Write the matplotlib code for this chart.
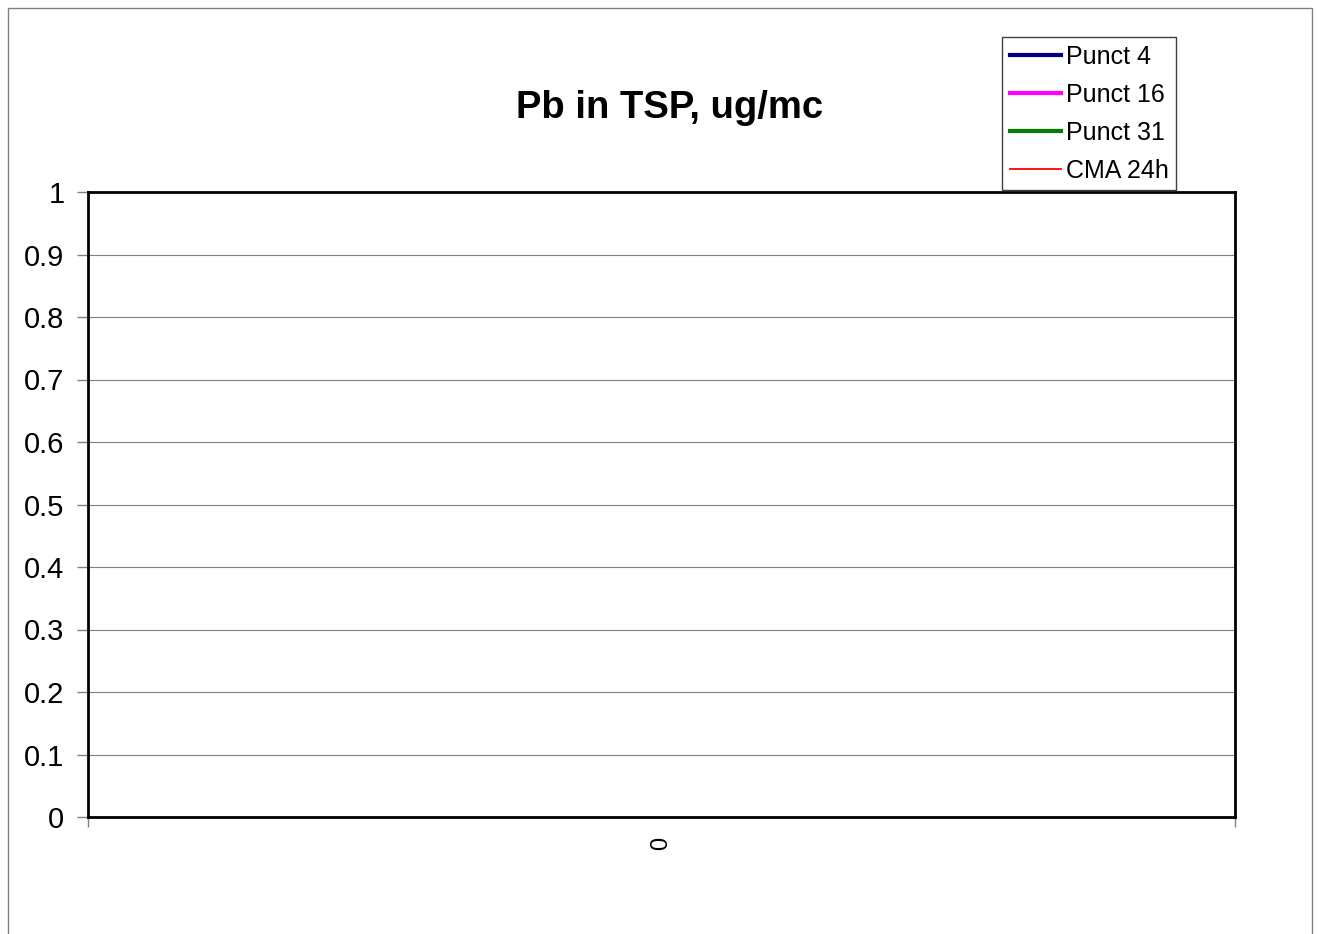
import numpy as np
import matplotlib
matplotlib.use('Agg')
import matplotlib.pyplot as plt
from matplotlib.patches import Rectangle

plt.rcParams['font.family'] = ['Liberation Sans', 'DejaVu Sans']

# data (chart has one empty category, no values plotted)
categories = ['0']
punct4 = [np.nan]
punct16 = [np.nan]
punct31 = [np.nan]
cma24h = [np.nan]
yticks = [0, 0.1, 0.2, 0.3, 0.4, 0.5, 0.6, 0.7, 0.8, 0.9, 1]
ytick_labels = ['0', '0.1', '0.2', '0.3', '0.4', '0.5', '0.6', '0.7', '0.8', '0.9', '1']

fig = plt.figure(figsize=(13.18, 9.34), dpi=100)
ax = fig.add_axes([88/1318, 1-817/934, (1235-88)/1318, (817-192)/934])

# outer chart border (bottom edge runs off the picture)
fig.patches.append(Rectangle((8/1318, -0.05), (1312-8)/1318, 1.05-8/934,
                             transform=fig.transFigure, fill=False,
                             edgecolor='#808080', lw=1))

x = np.arange(len(categories))
ax.plot(x, punct4, color='#000080', lw=3, label='Punct 4')
ax.plot(x, punct16, color='#FF00FF', lw=3, label='Punct 16')
ax.plot(x, punct31, color='#008000', lw=3, label='Punct 31')
ax.plot(x, cma24h, color='#FF0000', lw=1.3, label='CMA 24h')

ax.set_ylim(0, 1)
ax.set_yticks(yticks)
ax.set_yticklabels(ytick_labels, fontsize=21)
ax.set_xlim(-0.5, len(categories)-0.5)
ax.set_xticks(np.arange(len(categories)+1)-0.5)
ax.set_xticklabels([])
ax.set_xticks(x, minor=True)
ax.set_xticklabels(categories, minor=True, rotation=90, fontsize=17)
ax.tick_params(axis='x', which='minor', length=0, pad=14)
ax.tick_params(axis='x', which='major', length=7, color='#808080', width=1)
ax.tick_params(axis='y', length=8, color='#808080', width=1, pad=9)

ax.grid(axis='y', color='#808080', lw=0.8)
ax.set_axisbelow(True)
for s in ax.spines.values():
    s.set_linewidth(2)
    s.set_color('black')

fig.text(670/1318, 1-108/934, 'Pb in TSP, ug/mc', ha='center', va='center',
         fontsize=27.5, fontweight='bold')

leg = ax.legend(loc='upper left', bbox_to_anchor=(1002/1318, 1-37/934),
                bbox_transform=fig.transFigure, borderaxespad=0,
                fontsize=18, handlelength=2.05, handletextpad=0.2,
                labelspacing=0.56, borderpad=0.3, fancybox=False,
                framealpha=1, edgecolor='#404040')
leg.get_frame().set_linewidth(1)

fig.savefig('out.png', dpi=100, facecolor='white')
